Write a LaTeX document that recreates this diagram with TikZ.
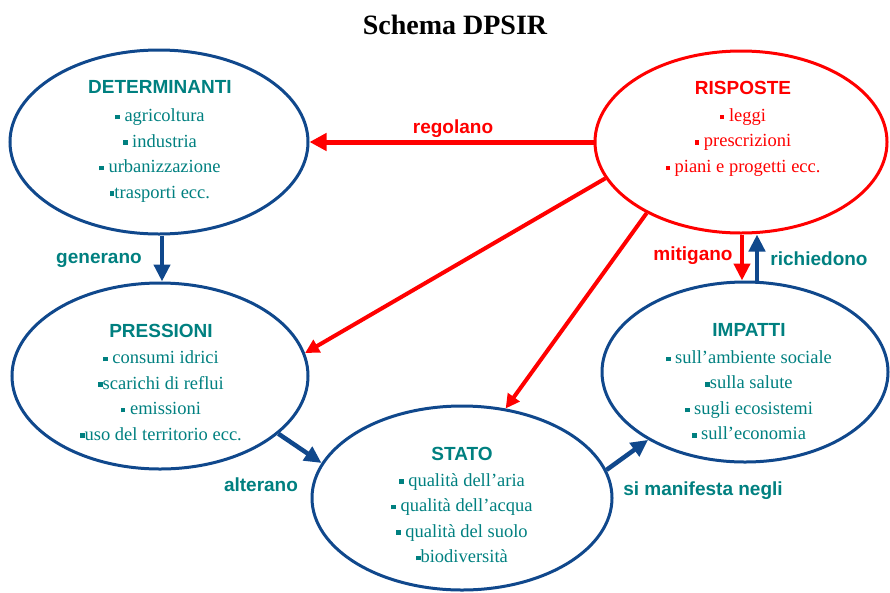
\documentclass[tikz,border=0pt]{standalone}
\usepackage{fontspec}
\setmainfont{Liberation Serif}
\newfontfamily\labelsans{Liberation Sans}
\usetikzlibrary{arrows.meta,shapes.geometric}
\definecolor{dpblue}{RGB}{16,72,140}
\definecolor{dpteal}{RGB}{0,128,128}
\definecolor{dpred}{RGB}{255,0,0}
\newcommand{\blt}{\rule[0.25ex]{4.5pt}{4.5pt}}
\newcommand{\hd}[1]{{\labelsans\bfseries\fontsize{19}{26}\selectfont #1}}

\begin{document}
\begin{tikzpicture}[x=1pt, y=-1pt, >={Triangle[length=17pt,width=16pt]},
  box/.style={ellipse, draw=dpblue, line width=3pt, inner sep=0pt},
  boxtxt/.style={align=center, text=dpteal, inner sep=0pt, font=\fontsize{18.5}{25.5}\selectfont},
  lbl/.style={font=\labelsans\bfseries\fontsize{19}{22}\selectfont, text=dpteal},
  link/.style={->, line width=4.5pt, dpblue},
  redlink/.style={->, line width=4pt, dpred, >={Triangle[length=14pt,width=14pt]}}]
\useasboundingbox (0,0) rectangle (890,592);

% title
\node[font=\bfseries\fontsize{28}{32}\selectfont] (title) at (455,25) {Schema DPSIR};

% the five ellipses
\node[box, minimum width=298pt, minimum height=184pt] (det) at (159,142) {};
\node[box, draw=dpred, minimum width=292pt, minimum height=182pt] (ris) at (741,142) {};
\node[box, minimum width=296pt, minimum height=186pt] (pres) at (160,376) {};
\node[box, minimum width=286pt, minimum height=180pt] (imp) at (745,372) {};
\node[box, minimum width=300pt, minimum height=184pt] (stato) at (462,498) {};

% texts
\node[boxtxt] (dettxt) at (160,141) {\hd{DETERMINANTI}\\[3pt] \blt{} agricoltura\\ \blt{} industria\\ \blt{} urbanizzazione\\ \blt trasporti ecc.};
\node[boxtxt, text=dpred] (ristxt) at (743,129) {\hd{RISPOSTE}\\[1pt] \blt{} leggi\\ \blt{} prescrizioni\\ \blt{} piani e progetti ecc.};
\node[boxtxt] (prestxt) at (161,382) {\hd{PRESSIONI}\\[1pt] \blt{} consumi idrici\\ \blt scarichi di reflui\\ \blt{} emissioni\\ \blt uso del territorio ecc.};
\node[boxtxt] (imptxt) at (749,382) {\hd{IMPATTI}\\[1pt] \blt{} sull'ambiente sociale\\ \blt sulla salute\\ \blt{} sugli ecosistemi\\ \blt{} sull'economia};
\node[boxtxt] (statotxt) at (462,505) {\hd{STATO}\\ \blt{} qualità dell'aria\\ \blt{} qualità dell'acqua\\ \blt{} qualità del suolo\\ \blt biodiversità};

% connectors
\draw[redlink, line width=5pt, >={Triangle[length=17pt,width=17pt]}] (ris) -- (det);
\draw[link] ([xshift=3pt]det.south) -- ([xshift=3pt]det.south |- pres.north);
\draw[redlink] (ris.195) -- (pres.9);
\draw[redlink] (ris.217) -- (stato.64);
\draw[redlink, line width=4.5pt, >={Triangle[length=17pt,width=16pt]}] ([xshift=-3pt]imp.north |- ris.south) -- ([xshift=-3pt]imp.north);
\draw[link] ([xshift=12pt]imp.north) -- ([xshift=12pt]imp.north |- ris.south);
\draw[link] (pres.334) -- (stato.166);
\draw[link] (stato.11) -- (imp.215);

% labels
\node[lbl, text=dpred] (regolano) at (453,129) {regolano};
\node[lbl] (generano) at (99,260) {generano};
\node[lbl, text=dpred] (mitigano) at (693,256) {mitigano};
\node[lbl] (richiedono) at (819,259) {richiedono};
\node[lbl] (alterano) at (261,485) {alterano};
\node[lbl] (manifesta) at (703,491) {si manifesta negli};
\end{tikzpicture}
\end{document}
